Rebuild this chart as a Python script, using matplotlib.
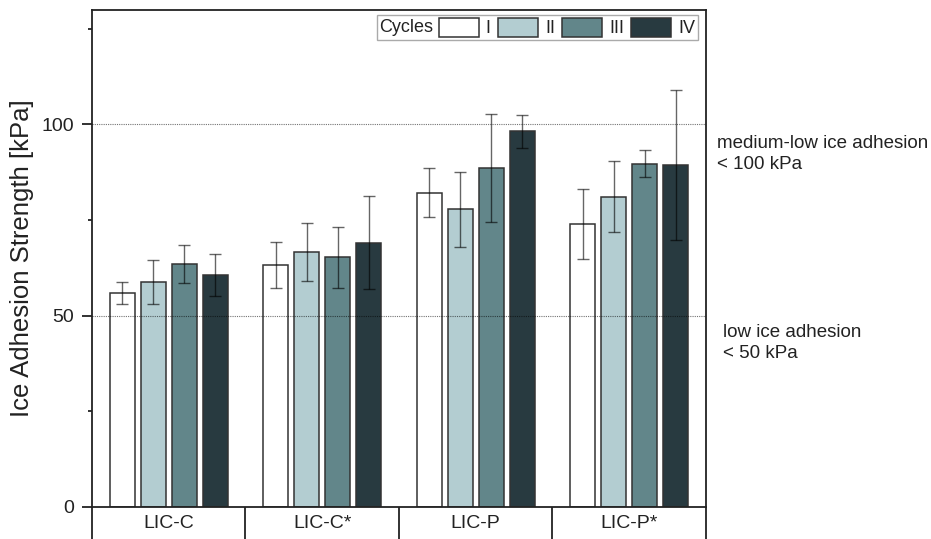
import numpy as np
import matplotlib
matplotlib.use("Agg")
import matplotlib.pyplot as plt
from matplotlib.patches import Patch
from matplotlib.offsetbox import HPacker
import matplotlib.transforms as mtransforms

plt.rcParams["font.family"] = ["Liberation Sans", "DejaVu Sans"]

# data
samples = ["LIC-C", "LIC-C*", "LIC-P", "LIC-P*"]
cycles = ["I", "II", "III", "IV"]
means = {
    "I":   [55.9, 63.2, 82.1, 74.0],
    "II":  [58.8, 66.6, 77.8, 81.1],
    "III": [63.6, 65.3, 88.6, 89.7],
    "IV":  [60.6, 69.1, 98.2, 89.3],
}
errors = {
    "I":   [2.9, 6.0, 6.4, 9.2],
    "II":  [5.8, 7.5, 9.8, 9.2],
    "III": [5.0, 8.0, 14.1, 3.5],
    "IV":  [5.5, 12.2, 4.3, 19.6],
}
colors = ["#ffffff", "#b3cdd1", "#62868a", "#283a40"]
thresholds = [50, 100]

TXT = "#222222"
EDGE = "#333333"

fig = plt.figure(figsize=(9.31, 5.39), dpi=100)
ax = fig.add_axes([0.0988, 0.0594, 0.6595, 0.9228])

centers = np.arange(len(samples)) + 0.5
pitch = 0.202
width = 0.165

for i, (cyc, col) in enumerate(zip(cycles, colors)):
    xs = centers + (i - 1.5) * pitch
    ax.bar(xs, means[cyc], width=width, color=col, edgecolor=EDGE,
           linewidth=1.1, zorder=2, label=cyc)
    ax.errorbar(xs, means[cyc], yerr=errors[cyc], fmt="none", ecolor="black",
                alpha=0.6, elinewidth=1.0, capsize=4, capthick=1.0, zorder=4)

for t in thresholds:
    ax.axhline(t, color="black", alpha=0.55, linewidth=0.8,
               linestyle=(0, (1, 1)), zorder=3)

ax.set_xlim(0, len(samples))
ax.set_ylim(0, 130)
ax.set_yticks([0, 50, 100])
ax.set_yticks([25, 75, 125], minor=True)
ax.tick_params(axis="y", which="major", direction="out", length=7.2, width=1.3,
               pad=5.8, labelsize=14, colors=TXT)
ax.tick_params(axis="y", which="minor", direction="out", length=2.6, width=1.3,
               colors=TXT)
ax.set_xticks(centers)
ax.set_xticklabels(samples)
ax.tick_params(axis="x", length=0, pad=6, labelsize=14, colors=TXT)
ax.set_ylabel("Ice Adhesion Strength [kPa]", fontsize=18.5, color=TXT, labelpad=5)

for sp in ax.spines.values():
    sp.set_linewidth(1.3)
    sp.set_color(TXT)

# category boxes under the axis
trans = mtransforms.blended_transform_factory(ax.transData, ax.transAxes)
for xb in range(len(samples) + 1):
    ax.plot([xb, xb], [0, -0.08], transform=trans, color=TXT, linewidth=1.3,
            clip_on=False, solid_capstyle="butt")

# legend: "Cycles" title placed to the left of the entries
handles = [Patch(facecolor=c, edgecolor=EDGE, linewidth=1.1) for c in colors]
leg = ax.legend(handles, cycles, ncol=4, title="Cycles", loc="upper right",
                bbox_to_anchor=(0.987, 0.989), borderaxespad=0, fontsize=13,
                title_fontsize=13, handlelength=2.2, handleheight=1.25,
                handletextpad=0.4, columnspacing=0.4, borderpad=0.15,
                fancybox=False, framealpha=1, edgecolor="#aaaaaa")
leg.get_frame().set_linewidth(1.0)
for txt in leg.get_texts():
    txt.set_color(TXT)
leg.get_title().set_color(TXT)
old_box = leg._legend_box
new_box = HPacker(pad=old_box.pad, sep=0.3 * 13, align="center",
                  children=old_box.get_children())
new_box.set_figure(fig)
new_box.axes = ax
new_box.set_offset(leg._findoffset)
leg._legend_box = new_box

fig.text(717 / 931, 1 - 154 / 539, "medium-low ice adhesion\n< 100 kPa",
         fontsize=13.5, color=TXT, va="center", ha="left", linespacing=1.38)
fig.text(723 / 931, 1 - 343 / 539, "low ice adhesion\n< 50 kPa",
         fontsize=13.5, color=TXT, va="center", ha="left", linespacing=1.38)

fig.savefig("out.png", dpi=100)
